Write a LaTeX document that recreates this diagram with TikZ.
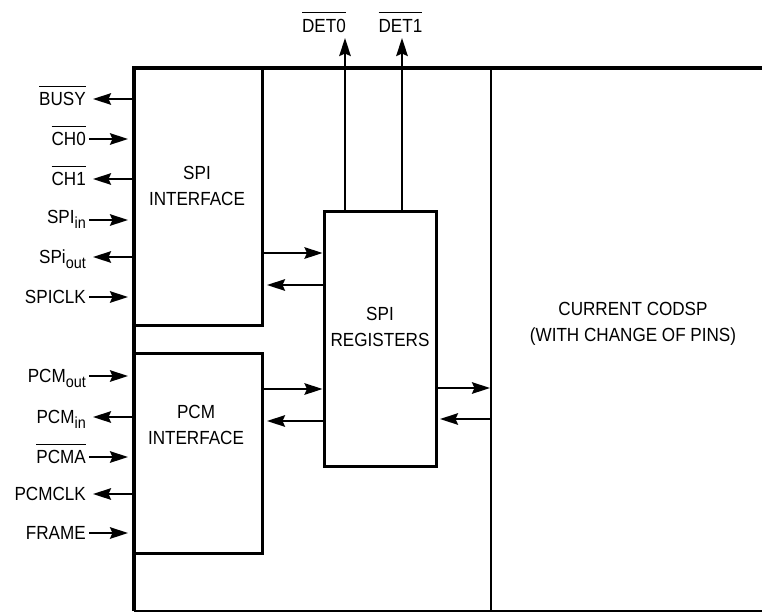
\documentclass[tikz,border=0pt]{standalone}
\usepackage{fontspec}
\setmainfont[FakeStretch=0.9]{Liberation Sans}
\usetikzlibrary{arrows.meta,calc}
\newcommand\ovl[1]{\vbox{\hrule height 1.4pt\kern 5.5pt\hbox{#1}}}
\newcommand\sbs[1]{\raisebox{-5pt}{\fontsize{16}{16}\selectfont #1}}
\begin{document}
\begin{tikzpicture}[x=1pt,y=-1pt,
  font=\fontsize{19}{26}\selectfont,
  blk/.style={draw, line width=3pt, anchor=north west, inner sep=0pt, outer sep=0pt},
  arr/.style={line width=2.3pt, -{Stealth[length=18pt,width=11.5pt,inset=2.5pt]}},
  pinlbl/.style={anchor=base east, inner sep=0pt},
  lbl/.style={align=center, inner sep=0pt}]
\useasboundingbox (0,0) rectangle (762,613);

% outer frame
\draw[line width=3.6pt] (134,611) -- (134,68) -- (762,68);
\draw[line width=1.6pt] (134,611) -- (762,611);
\draw[line width=2.2pt] (491,68) -- (491,611);
\coordinate (cod) at (491,324);

% blocks
\node[blk, minimum width=128pt, minimum height=257pt] (spi) at (134,68) {};
\node[blk, minimum width=128pt, minimum height=200pt] (pcm) at (134,353) {};
\node[blk, minimum width=112pt, minimum height=255pt] (reg) at (324,211) {};

\node[lbl] (spit) at (197,186) {SPI\\INTERFACE};
\node[lbl] (pcmt) at (196,425) {PCM\\INTERFACE};
\node[lbl] (regt) at (380,327) {SPI\\REGISTERS};
\node[lbl] (codt) at (633,324) {CURRENT CODSP\\(WITH CHANGE OF PINS)};

% input pins (arrow into chip)
\foreach \n/\y/\dy/\t in {ch0/139/6.8/{\ovl{CH0}}, spiin/220/3.3/{SPI\sbs{in}},
    spiclk/297/6.8/{SPICLK}, pcmout/376/6.8/{PCM\sbs{out}},
    pcma/457/6.8/{\ovl{PCMA}}, frame/533/6.8/{FRAME}}{
  \coordinate (p\n) at (134,\y);
  \node[pinlbl] (l\n) at (86,\y+\dy) {\t};
  \draw[arr, shorten <=3pt, shorten >=6pt] (p\n -| l\n.east) -- (p\n);
}
% output pins (arrow out of chip)
\foreach \n/\y/\dy/\t in {busy/99/6.8/{\ovl{BUSY}}, ch1/179/6.8/{\ovl{CH1}},
    spiout/257/6.8/{SPi\sbs{out}}, pcmin/417/6.8/{PCM\sbs{in}},
    pcmclk/494/6.8/{PCMCLK}}{
  \coordinate (p\n) at (134,\y);
  \node[pinlbl] (l\n) at (86,\y+\dy) {\t};
  \draw[arr, shorten >=7pt] (p\n) -- (p\n -| l\n.east);
}

% internal connections
\coordinate (ya) at (0,253);
\coordinate (yb) at (0,285);
\coordinate (yc) at (0,389);
\coordinate (yd) at (0,421);
\coordinate (ye) at (0,388);
\coordinate (yf) at (0,419);
\draw[arr, shorten >=1.5pt] (spi.east |- ya) -- (reg.west |- ya);
\draw[arr, shorten >=5pt] (reg.west |- yb) -- (spi.east |- yb);
\draw[arr, shorten >=1.5pt] (pcm.east |- yc) -- (reg.west |- yc);
\draw[arr, shorten >=5pt] (reg.west |- yd) -- (pcm.east |- yd);
\draw[arr, shorten >=1pt] (reg.east |- ye) -- (cod |- ye);
\draw[arr, shorten >=4pt] (cod |- yf) -- (reg.east |- yf);

% DET outputs
\node[anchor=base, inner sep=0pt] (det0) at (324,32) {\ovl{DET0}};
\node[anchor=base, inner sep=0pt] (det1) at (400.5,32) {\ovl{DET1}};
\coordinate (d0) at (345,38);
\coordinate (d1) at (402,38);
\draw[arr] (reg.north -| d0) -- (d0);
\draw[arr] (reg.north -| d1) -- (d1);
\end{tikzpicture}
\end{document}
